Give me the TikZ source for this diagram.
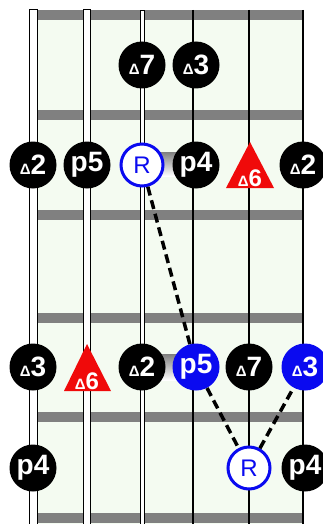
\documentclass[tikz,border=0pt]{standalone}
\usepackage{fontspec}
\setmainfont{Liberation Sans}

\definecolor{boardbg}{RGB}{244,251,241}
\definecolor{fretgray}{RGB}{128,128,128}
\definecolor{shade}{RGB}{200,200,200}
\definecolor{noteblue}{RGB}{10,10,240}
\definecolor{notered}{RGB}{240,10,10}

\newcommand{\iv}[1]{{\fontsize{15}{15}\selectfont Δ}#1}

\begin{document}
\begin{tikzpicture}[x=1pt, y=-1pt,
    every node/.style={inner sep=0pt, font=\fontsize{28}{28}\selectfont\bfseries},
    note/.style={circle, fill=black, text=white, minimum size=47pt},
    hit/.style={circle, fill=noteblue, text=white, minimum size=47pt},
    root/.style={circle, draw=noteblue, line width=3pt, fill=white, text=noteblue, minimum size=42pt, font=\fontsize{24}{24}\selectfont},
    sixth/.style={text=white, anchor=base, font=\fontsize{24}{24}\selectfont\bfseries},
    tie/.style={line width=3.5pt, dash pattern=on 9pt off 5pt}]
    \useasboundingbox (0,0) rectangle (323,524);
    \fill[boardbg] (29,10) rectangle (303,524);
    \foreach \y in {15,115,215,318,417,518}
      \fill[fretgray] (33,\y-5) rectangle (303,\y+5);
    \fill[shade] (150,152) rectangle (180,176);
    \fill[shade] (160,354) rectangle (180,380);
    \draw[line width=1pt, fill=white] (29,10) rectangle (37,524);
    \draw[line width=1pt, fill=white] (83,10) rectangle (90,524);
    \draw[line width=0.9pt, fill=white] (140,10) rectangle (144,524);
    \draw[line width=1.5pt] (193,10) -- (193,524);
    \draw[line width=1.5pt] (249,10) -- (249,524);
    \draw[line width=1.5pt] (303,10) -- (303,524);

    \node[note] (a3) at (142,65) {\iv{7}};
    \node[note] (a4) at (196,65) {\iv{3}};

    \node[note] (b1) at (33,165) {\iv{2}};
    \node[note] (b2) at (87,165) {p5};
    \node[root] (b3) at (142,165) {R};
    \node[note] (b4) at (196,165) {p4};
    \fill[notered] (250,142) -- (274,188) -- (226,188) -- cycle;
    \node[sixth] (b5) at (250,186) {\iv{6}};
    \node[note] (b6) at (303,165) {\iv{2}};

    \node[note] (c1) at (33,367) {\iv{3}};
    \fill[notered] (87,344) -- (111,391) -- (64,391) -- cycle;
    \node[sixth] (c2) at (87,389) {\iv{6}};
    \node[note] (c3) at (142,367) {\iv{2}};
    \node[hit] (c4) at (196,367) {p5};
    \node[note] (c5) at (249,367) {\iv{7}};
    \node[hit] (c6) at (305,367) {\iv{3}};

    \node[note] (d1) at (33,468) {p4};
    \node[root] (d5) at (249,468) {R};
    \node[note] (d6) at (305,468) {p4};

    \draw[tie] (b3) -- (c4);
    \draw[tie] (c4) -- (d5);
    \draw[tie] (d5) -- (c6);
\end{tikzpicture}
\end{document}
